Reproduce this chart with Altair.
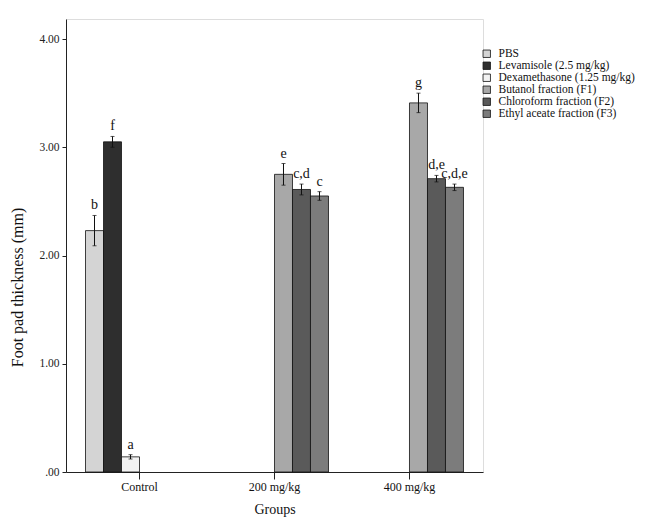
import altair as alt
import pandas as pd

group_order = ["Control", "200 mg/kg", "400 mg/kg"]
series_order = [
    "PBS",
    "Levamisole (2.5 mg/kg)",
    "Dexamethasone (1.25 mg/kg)",
    "Butanol fraction (F1)",
    "Chloroform fraction (F2)",
    "Ethyl aceate fraction (F3)",
]

groups = ["Control", "Control", "Control",
          "200 mg/kg", "200 mg/kg", "200 mg/kg",
          "400 mg/kg", "400 mg/kg", "400 mg/kg"]
series = [series_order[0], series_order[1], series_order[2],
          series_order[3], series_order[4], series_order[5],
          series_order[3], series_order[4], series_order[5]]
means = [2.23, 3.05, 0.14, 2.75, 2.61, 2.55, 3.41, 2.71, 2.63]
errors = [0.14, 0.05, 0.02, 0.10, 0.05, 0.04, 0.09, 0.03, 0.03]
letters = ["b", "f", "a", "e", "c,d", "c", "g", "d,e", "c,d,e"]

fills = ["#d4d4d4", "#2e2e2e", "#f2f2f2", "#a8a8a8", "#5a5a5a", "#7c7c7c"]

df = pd.DataFrame({
    "group": groups,
    "series": series,
    "mean": means,
    "err": errors,
    "letter": letters,
})
df["lo"] = df["mean"] - df["err"]
df["hi"] = df["mean"] + df["err"]

FONT = "Liberation Serif"

x_enc = alt.X(
    "group:N",
    sort=group_order,
    scale=alt.Scale(paddingInner=0.2, paddingOuter=0.1445),
    axis=alt.Axis(
        title="Groups", labelAngle=0, tickSize=7, labelPadding=2,
        titlePadding=10, labelFontSize=12, titleFontSize=14,
        labelFont=FONT, titleFont=FONT, titleFontWeight="normal",
        domainColor="#222", tickColor="#222", labelColor="#111", titleColor="#111",
    ),
)
xo_enc = alt.XOffset(
    "series:N", sort=series_order,
    scale=alt.Scale(domain=series_order, paddingInner=0, paddingOuter=0),
)
y_scale = alt.Scale(domain=[0, 4.185], nice=False, zero=True)

base = alt.Chart(df).encode(x=x_enc, xOffset=xo_enc)

bars = base.mark_bar(stroke="#111", strokeWidth=0.8).encode(
    y=alt.Y(
        "mean:Q", scale=y_scale,
        axis=alt.Axis(
            title="Foot pad thickness (mm)", values=[0, 1, 2, 3, 4],
            labelExpr="datum.value == 0 ? '.00' : format(datum.value, '.2f')",
            grid=False, tickSize=4, labelPadding=3,
            titleX=-49, titleY=268, titleAngle=270, titleBaseline="middle",
            titleAlign="center",
            labelFontSize=11.5, titleFontSize=16, labelFont=FONT, titleFont=FONT,
            titleFontWeight="normal", domainColor="#222", tickColor="#222",
            labelColor="#222", titleColor="#111",
        ),
    ),
    fill=alt.Fill(
        "series:N", sort=series_order,
        scale=alt.Scale(domain=series_order, range=fills),
        legend=alt.Legend(
            title=None, orient="none", legendX=415, legendY=29,
            symbolType="square", symbolSize=55, symbolStrokeColor="#111",
            symbolStrokeWidth=0.8, labelFont=FONT, labelFontSize=11.5,
            labelColor="#111", labelOffset=6, rowPadding=-1, padding=0,
        ),
    ),
)

rules = base.mark_rule(color="#111", strokeWidth=1).encode(
    y=alt.Y("lo:Q", scale=y_scale), y2="hi:Q"
)
cap_hi = base.mark_tick(color="#111", size=4, thickness=1).encode(
    y=alt.Y("hi:Q", scale=y_scale)
)
cap_lo = base.mark_tick(color="#111", size=4, thickness=1).encode(
    y=alt.Y("lo:Q", scale=y_scale)
)
labels = base.mark_text(
    baseline="bottom", dy=-3, font=FONT, fontSize=14, color="#111"
).encode(y=alt.Y("hi:Q", scale=y_scale), text="letter:N")

chart = alt.layer(bars, rules, cap_hi, cap_lo, labels).properties(
    width=417, height=453,
    autosize=alt.AutoSizeParams(type="none"),
    padding={"left": 58, "top": 11, "right": 162, "bottom": 50},
).configure_view(stroke="#444", strokeWidth=1).configure(background="white")

chart.save("out.html", embed_options={"renderer": "svg", "actions": False})
